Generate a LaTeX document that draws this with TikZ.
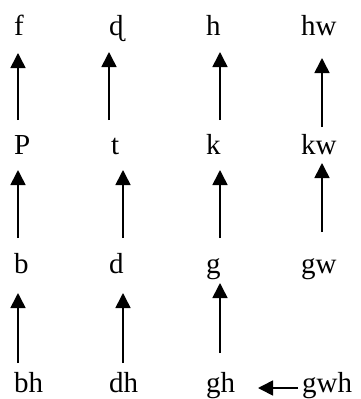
\documentclass[tikz,border=0pt]{standalone}
\usepackage{fontspec}
\setmainfont{Liberation Serif}
\usetikzlibrary{arrows.meta,calc}
\begin{document}
\begin{tikzpicture}[x=1pt,y=-1pt,
  lbl/.style={anchor=base west,inner sep=0pt,font=\fontsize{29}{33}\selectfont},
  arr/.style={line width=1.6pt,-{Triangle[length=15pt,width=15pt]}}]
\useasboundingbox (0,0) rectangle (360,399);
% row 1
\node[lbl] (f)  at (14,35)  {f};
\node[lbl] (dt) at (109,35) {ɖ};
\node[lbl] (h)  at (206,35) {h};
\node[lbl] (hw) at (301,35) {hw};
% row 2
\node[lbl] (P)  at (14,154)  {P};
\node[lbl] (t)  at (111,154) {t};
\node[lbl] (k)  at (206,154) {k};
\node[lbl] (kw) at (301,154) {kw};
% row 3
\node[lbl] (b)  at (14,273)  {b};
\node[lbl] (d)  at (109,273) {d};
\node[lbl] (g)  at (206,273) {g};
\node[lbl] (gw) at (301,273) {gw};
% row 4
\node[lbl] (bh)  at (14,392)  {bh};
\node[lbl] (dh)  at (109,392) {dh};
\node[lbl] (gh)  at (206,392) {gh};
\node[lbl] (gwh) at (302,392) {gwh};
% upward arrows, row 2 to row 1
\draw[arr] ($(P.base west)+(4,-34)$)   -- ($(f.base west)+(4,18)$);
\draw[arr] ($(t.base west)+(-2,-34)$)  -- ($(dt.base west)+(0,17)$);
\draw[arr] ($(k.base west)+(14,-34)$)  -- ($(h.base west)+(14,17)$);
\draw[arr] ($(kw.base west)+(21,-27)$) -- ($(hw.base west)+(21,23)$);
% row 3 to row 2
\draw[arr] ($(b.base west)+(4,-35)$)   -- ($(P.base west)+(4,16)$);
\draw[arr] ($(d.base west)+(14,-35)$)  -- ($(t.base west)+(12,16)$);
\draw[arr] ($(g.base west)+(14,-35)$)  -- ($(k.base west)+(14,16)$);
\draw[arr] ($(gw.base west)+(21,-41)$) -- ($(kw.base west)+(21,9)$);
% row 4 to row 3
\draw[arr] ($(bh.base west)+(4,-29)$)  -- ($(b.base west)+(4,20)$);
\draw[arr] ($(dh.base west)+(14,-29)$) -- ($(d.base west)+(14,20)$);
\draw[arr] ($(gh.base west)+(14,-39)$) -- ($(g.base west)+(14,10)$);
% sideways arrow
\draw[arr] ($(gwh.base west)+(-4,-4)$) -- ($(gh.base west)+(52,-4)$);
\end{tikzpicture}
\end{document}
